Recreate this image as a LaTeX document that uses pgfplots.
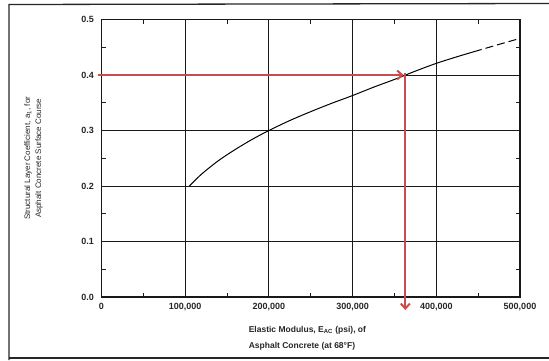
\documentclass[border=0pt]{standalone}
\usepackage{fontspec}
\setmainfont{Liberation Sans}
\usepackage{pgfplots}
\pgfplotsset{compat=1.18}
\usetikzlibrary{arrows.meta}
\definecolor{arrowred}{RGB}{200,78,78}
\begin{document}
\begin{tikzpicture}[x=1pt,y=1pt]
\useasboundingbox (0,0) rectangle (549,360);
\draw[line width=1.3pt, black!85] (549,356.5) -- (9,355.5) -- (9,0);
\draw[line width=1.3pt, black!85] (9,2) -- (549,2);
\begin{axis}[
  at={(101.5pt,63pt)}, anchor=origin, scale only axis,
  width=418.5pt, height=277.5pt,
  xmin=0, xmax=500000, ymin=0, ymax=0.5,
  scaled x ticks=false, scaled y ticks=false,
  xtick={0,100000,200000,300000,400000,500000},
  xticklabels={0,{100,000},{200,000},{300,000},{400,000},{500,000}},
  ytick={0,0.1,0.2,0.3,0.4,0.5},
  yticklabels={0.0,0.1,0.2,0.3,0.4,0.5},
  minor xtick={50000,150000,250000,350000,450000},
  minor ytick={0.05,0.15,0.25,0.35,0.45},
  major tick length=0pt, minor tick length=4pt, tick align=inside,
  xmajorgrids, ymajorgrids,
  major grid style={black!90, line width=0.9pt},
  minor tick style={black!90, line width=0.9pt},
  axis line style={black!90, line width=1.1pt},
  tick label style={font=\fontsize{9}{10}\selectfont\bfseries, text=black!85},
  xticklabel style={yshift=-3pt},
  yticklabel style={xshift=-4pt},
  clip=false,
  xlabel={Elastic Modulus, E\textsubscript{AC} (psi), of\\Asphalt Concrete (at 68°F)},
  xlabel style={align=left, font=\fontsize{8.5}{16}\selectfont\bfseries, text=black!85,
    at={(axis description cs:0.492,0)}, anchor=north, yshift=-25.5pt},
  ylabel={Structural Layer Coefficient, a\textsubscript{1}, for\\Asphalt Concrete Surface Course},
  ylabel style={align=center, font=\fontsize{8}{11}\selectfont, text=black!85,
    at={(axis description cs:-0.1625,0.5)}, anchor=center},
]
\addplot[black, line width=1pt, smooth] coordinates {
  (105000,0.200) (120000,0.222) (140000,0.246) (160000,0.266) (180000,0.284)
  (200000,0.300) (225000,0.318) (250000,0.334) (275000,0.349) (300000,0.363)
  (325000,0.378) (350000,0.392) (375000,0.407) (400000,0.421) (425000,0.433)
  (445000,0.442)
};
\addplot[black, line width=1pt, dash pattern=on 8pt off 4pt] coordinates {
  (445000,0.442) (470000,0.453) (500000,0.466)
};
\addplot[arrowred, line width=2pt, -{Straight Barb[length=5pt,width=9pt]}] coordinates {
  (-4200,0.400) (361000,0.400)
};
\addplot[arrowred, line width=2pt, -{Straight Barb[length=5pt,width=9pt]}] coordinates {
  (363000,0.404) (363000,-0.0235)
};
\end{axis}
\end{tikzpicture}
\end{document}
